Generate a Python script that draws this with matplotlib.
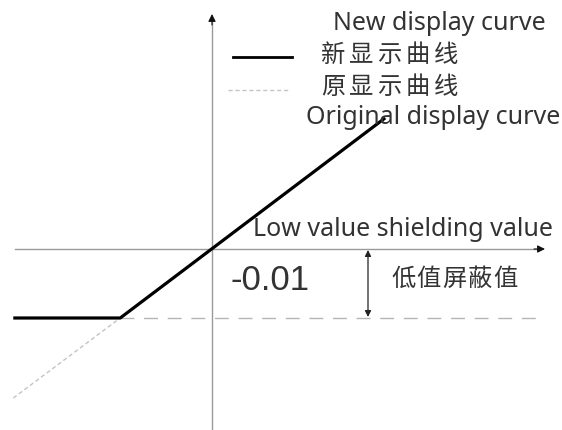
import matplotlib.pyplot as plt

# data in units of the display value (origin where the axes cross)
threshold = -0.01
new_x = [-0.0288, -0.0133, 0.0251]
new_y = [-0.01, -0.01, 0.0190]
orig_x = [-0.0288, -0.0133]
orig_y = [-0.0216, -0.01]
thr_x = [-0.0133, 0.0483]

legend_new = "新显示曲线"
legend_orig = "原显示曲线"
shield_cn = "低值屏蔽值"

W, H = 562, 430
OX, OY = 212, 249  # origin in pixels
S = 6900.0         # pixels per unit


def d(px, py):
    # pixel -> data
    return (px - OX) / S, (OY - py) / S


plt.rcParams['font.family'] = ['Noto Sans', 'Noto Sans CJK SC', 'DejaVu Sans']

fig = plt.figure(figsize=(W / 100, H / 100), dpi=100)
ax = fig.add_axes([0, 0, 1, 1])
ax.set_xlim(d(0, 0)[0], d(W, 0)[0])
ax.set_ylim(d(0, H)[1], d(0, 0)[1])
ax.axis('off')

axis_col = "#9a9a9a"
txt_col = "#333333"

# axes lines, black arrow heads
ax.plot([d(15, 0)[0], d(538, 0)[0]], [0, 0], color=axis_col, lw=1.0)
ax.plot([0, 0], [d(0, 430)[1], d(0, 22)[1]], color=axis_col, lw=1.0)
ax.annotate("", xy=d(545, OY), xytext=d(534, OY),
            arrowprops=dict(arrowstyle="-|>", color="#111111", lw=0.8,
                            mutation_scale=11, shrinkA=0, shrinkB=0))
ax.annotate("", xy=d(OX, 14), xytext=d(OX, 25),
            arrowprops=dict(arrowstyle="-|>", color="#111111", lw=0.8,
                            mutation_scale=11, shrinkA=0, shrinkB=0))

# threshold dashed line
ax.plot(thr_x, [threshold, threshold], color="#b5b5b5", lw=1.0,
        dashes=(10, 7))

# original curve (dashed, light)
ax.plot(orig_x, orig_y, color="#c4c4c4", lw=1.0, dashes=(3, 2))

# new curve
ax.plot(new_x, new_y, color="black", lw=2.3, solid_capstyle="butt")

# double arrow for shielding value
ax.annotate("", xy=d(368, 317), xytext=d(368, 250),
            arrowprops=dict(arrowstyle="<|-|>", color="#222222", lw=0.9,
                            mutation_scale=9, shrinkA=0, shrinkB=0))

# legend
ax.plot([d(233, 0)[0], d(292, 0)[0]], [d(0, 57)[1]] * 2, color="black", lw=2.0)
ax.plot([d(228, 0)[0], d(289, 0)[0]], [d(0, 90)[1]] * 2, color="#c4c4c4",
        lw=1.0, dashes=(3, 2))


def spaced(text, x0, y, step, size):
    for i, ch in enumerate(text):
        ax.text(*d(x0 + i * step, y), ch, fontsize=size, color=txt_col,
                ha="left", va="center")


spaced(legend_new, 321, 56, 28.3, 17.5)
spaced(legend_orig, 321, 88, 28.3, 17.5)
spaced(shield_cn, 391, 280, 25.6, 17.5)

ax.text(*d(333, 24), "New display curve", fontsize=18, color=txt_col,
        ha="left", va="center")
ax.text(*d(306, 117), "Original display curve", fontsize=18, color=txt_col,
        ha="left", va="center")
ax.text(*d(253, 229), "Low value shielding value", fontsize=18, color=txt_col,
        ha="left", va="center")
ax.text(*d(231, 281), "-0.01", fontsize=25, color=txt_col,
        family="Liberation Sans", ha="left", va="center")

fig.savefig("out.png", dpi=100)
